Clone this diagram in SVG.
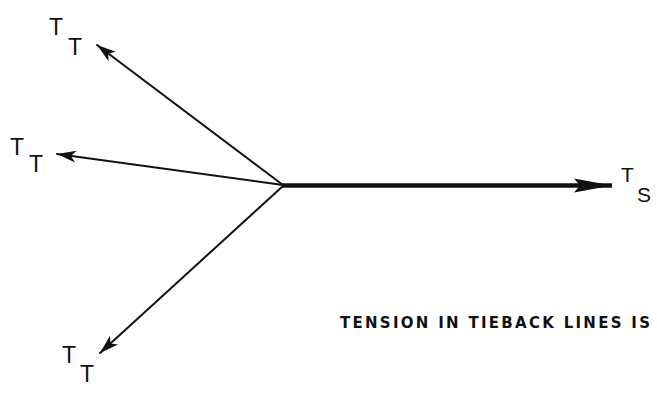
<svg xmlns="http://www.w3.org/2000/svg" width="657" height="397" viewBox="0 0 657 397">
<style>
.ln{stroke:#111;stroke-width:2;fill:none;stroke-linecap:round}
.thick{stroke:#111;stroke-width:4.5;fill:none}
.lbl{font-family:"Liberation Sans",Arial,sans-serif;font-size:23px;fill:#111}
.cap{font-family:"DejaVu Sans",sans-serif;font-size:15px;font-weight:bold;fill:#111}
</style>
<defs>
<marker id="ah" viewBox="-20 -7 22 14" refX="0" refY="0" markerWidth="22" markerHeight="14" markerUnits="userSpaceOnUse" orient="auto">
<path d="M0,0 L-19,-6 L-14,0 L-19,6 Z" fill="#111"/>
</marker>
<marker id="ahb" viewBox="-40 -8 42 16" refX="0" refY="0" markerWidth="42" markerHeight="16" markerUnits="userSpaceOnUse" orient="auto">
<path d="M0,0 L-38,-7 L-32,0 L-38,7 Z" fill="#111"/>
</marker>
</defs>
<g id="connectors">
<line class="ln" x1="283" y1="185" x2="97" y2="45" marker-end="url(#ah)"/>
<line class="ln" x1="283" y1="185" x2="57" y2="154" marker-end="url(#ah)"/>
<line class="ln" x1="283" y1="186" x2="100" y2="353" marker-end="url(#ah)"/>
<line class="thick" x1="282" y1="185.5" x2="612" y2="185.5" marker-end="url(#ahb)"/>
</g>
<g id="label-tt-upper">
<text class="lbl" x="49" y="35">T</text>
<text class="lbl" x="68" y="55">T</text>
</g>
<g id="label-tt-middle">
<text class="lbl" x="10" y="155">T</text>
<text class="lbl" x="29" y="172">T</text>
</g>
<g id="label-tt-lower">
<text class="lbl" x="62" y="363">T</text>
<text class="lbl" x="80" y="382">T</text>
</g>
<g id="label-ts">
<text class="lbl" x="621" y="182" style="font-size:21px">T</text>
<text class="lbl" x="637" y="202" style="font-size:21px">S</text>
</g>
<g id="caption">
<text class="cap" x="340" y="328" textLength="310" lengthAdjust="spacing">TENSION IN TIEBACK LINES IS</text>
</g>
</svg>
